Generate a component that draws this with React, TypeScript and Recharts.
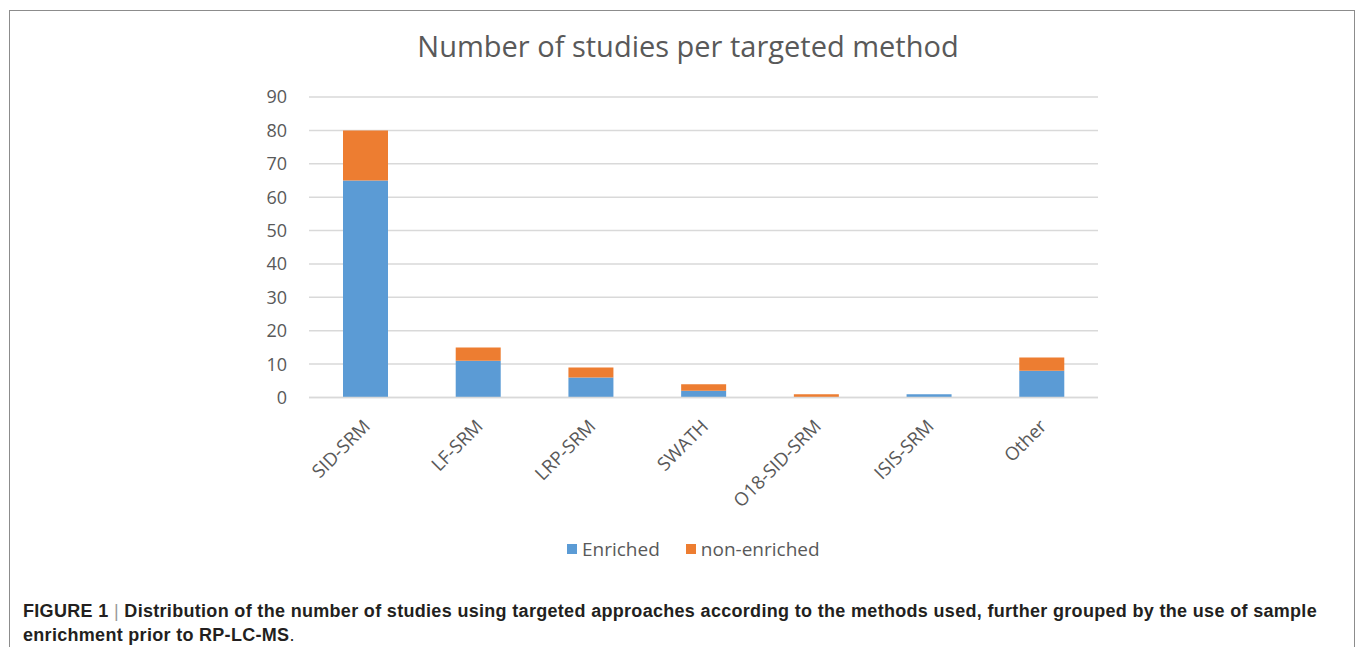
import React from "react";
import { Bar, BarChart, CartesianGrid, XAxis, YAxis } from "recharts";

const methods = ["SID-SRM", "LF-SRM", "LRP-SRM", "SWATH", "O18-SID-SRM", "ISIS-SRM", "Other"];
const enriched = [65, 11, 6, 2, 0, 1, 8];
const nonEnriched = [15, 4, 3, 2, 1, 0, 4];
const yTicks = [0, 10, 20, 30, 40, 50, 60, 70, 80, 90];

const BLUE = "#5B9BD5";
const ORANGE = "#ED7D31";
const TEXT = "#595959";
const FONT = "'Open Sans', sans-serif";

const data = methods.map((name, i) => ({
  name,
  enriched: enriched[i],
  nonEnriched: nonEnriched[i],
}));

const AngledTick = (props: any) => {
  const { x, y, payload } = props;
  const ax = x + 6;
  const ay = y + 22;
  return (
    <text
      x={ax}
      y={ay}
      transform={`rotate(-45, ${ax}, ${ay})`}
      textAnchor="end"
      fill={TEXT}
      fontSize={18.5}
      fontFamily={FONT}
    >
      {payload.value}
    </text>
  );
};

const LegendItem = ({ color, label }: { color: string; label: string }) => (
  <div style={{ display: "flex", alignItems: "center", marginRight: 26 }}>
    <span style={{ width: 10, height: 10, background: color, marginRight: 5 }} />
    <span style={{ fontFamily: FONT, fontSize: 19, color: TEXT }}>{label}</span>
  </div>
);

const captionStyle: React.CSSProperties = {
  fontFamily: "'Liberation Sans', Arial, sans-serif",
  fontWeight: "bold",
  fontSize: 18,
  letterSpacing: 0.3,
  lineHeight: "24px",
  color: "#231f20",
  whiteSpace: "nowrap",
};

export default function App() {
  return (
    <div style={{ position: "absolute", left: 0, top: 0, width: 1358, height: 647, overflow: "hidden", background: "#fff" }}>
      <div
        style={{
          position: "absolute",
          left: 9,
          top: 10,
          width: 1344,
          height: 700,
          border: "1.5px solid #8c8c8c",
        }}
      />
      <div
        style={{
          position: "absolute",
          left: 9,
          top: 29,
          width: 1358,
          textAlign: "center",
          fontFamily: FONT,
          fontSize: 29,
          lineHeight: "34px",
          color: TEXT,
        }}
      >
        Number of studies per targeted method
      </div>

      <div style={{ position: "absolute", left: 0, top: 0 }}>
        <BarChart
          width={1358}
          height={520}
          data={data}
          margin={{ top: 97, right: 260, left: 249, bottom: 0 }}
          barSize={45}
        >
          <CartesianGrid vertical={false} stroke="#d9d9d9" strokeWidth={1.5} />
          <XAxis
            dataKey="name"
            height={122.5}
            interval={0}
            tickLine={false}
            axisLine={{ stroke: "#d9d9d9", strokeWidth: 1.5 }}
            tick={<AngledTick />}
          />
          <YAxis
            width={60}
            domain={[0, 90]}
            ticks={yTicks}
            interval={0}
            tickLine={false}
            axisLine={false}
            tickMargin={16}
            tick={{ fill: TEXT, fontSize: 18, fontFamily: FONT }}
          />
          <Bar dataKey="enriched" stackId="a" fill={BLUE} isAnimationActive={false} />
          <Bar dataKey="nonEnriched" stackId="a" fill={ORANGE} isAnimationActive={false} />
        </BarChart>
      </div>

      <div style={{ position: "absolute", left: 567, top: 538, height: 22, display: "flex", alignItems: "center" }}>
        <LegendItem color={BLUE} label="Enriched" />
        <LegendItem color={ORANGE} label="non-enriched" />
      </div>

      <div style={{ position: "absolute", left: 23, top: 598.5, width: 1294 }}>
        <div style={{ ...captionStyle, textAlign: "justify", textAlignLast: "justify", whiteSpace: "normal" }}>
          FIGURE 1 <span style={{ fontWeight: "normal", color: "#9a9a9a" }}>|</span> Distribution of the number of
          studies using targeted approaches according to the methods used, further grouped by the use of sample
        </div>
        <div style={captionStyle}>
          enrichment prior to RP-LC-MS<span style={{ fontWeight: "normal" }}>.</span>
        </div>
      </div>
    </div>
  );
}
